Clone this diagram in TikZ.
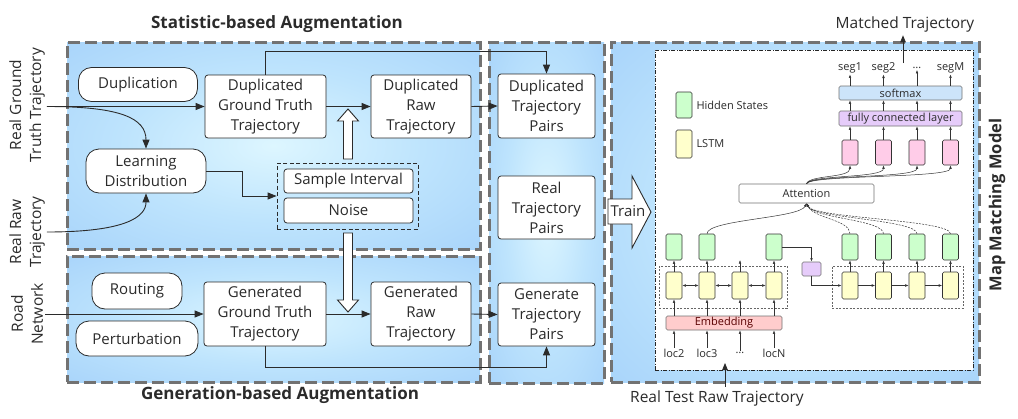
\documentclass[tikz,border=0pt]{standalone}
\usepackage{fontspec}
\setmainfont{Open Sans}
\usepackage{xcolor}
\usetikzlibrary{arrows.meta,positioning}

\definecolor{glowin}{HTML}{DDF6FF}
\definecolor{glowmid}{HTML}{BEE4FD}
\definecolor{glowout}{HTML}{98C8F8}
\definecolor{framegray}{HTML}{727272}
\definecolor{inkgray}{HTML}{2B2B2B}
\definecolor{hidgreen}{HTML}{CCFFCC}
\definecolor{lstmyellow}{HTML}{FFFFCC}
\definecolor{attpink}{HTML}{FFCCE8}
\definecolor{smblue}{HTML}{CCE4FA}
\definecolor{fcpurple}{HTML}{E6CCFA}
\definecolor{embred}{HTML}{FFCCCC}
\pgfdeclareradialshading{glow}{\pgfpoint{0bp}{0bp}}{color(0bp)=(glowin); color(18bp)=(glowmid); color(50bp)=(glowout)}

\newcommand\mainfs{\fontsize{15}{20}\selectfont}
\newcommand\outfs{\fontsize{15.5}{20}\selectfont}
\newcommand\modelfs{\fontsize{11}{13}\selectfont}
\newcommand\titlefs{\fontsize{17}{20}\selectfont\bfseries}

\begin{document}
\begin{tikzpicture}[
  x=1pt, y=-1pt,
  frame/.style={draw=framegray, line width=3pt, dash pattern=on 12pt off 5pt,
                shade, shading=glow, inner sep=0pt},
  box/.style={draw=inkgray, line width=0.8pt, rounded corners=3pt, fill=white,
              align=center, font=\mainfs, text=inkgray, inner sep=1pt},
  pill/.style={box, rounded corners=13pt},
  title/.style={font=\titlefs, text=inkgray},
  inlabel/.style={align=center, font=\outfs, text=inkgray, inner sep=2pt},
  arrow/.style={-{Triangle[length=9pt,width=7pt]}, line width=0.9pt, draw=inkgray},
  hollow/.style={draw=inkgray, line width=0.9pt, fill=white},
  cell/.style={draw=black!80, line width=0.6pt, rounded corners=1.5pt,
               minimum width=16pt, minimum height=26pt, inner sep=0pt},
  layer/.style={draw=black!55, line width=0.6pt, rounded corners=1.5pt,
                inner sep=0pt, font=\modelfs, text=inkgray},
  grp/.style={draw=black!60, line width=0.5pt, dash pattern=on 2pt off 1.5pt},
  tiny/.style={>={Latex[length=3.5pt,width=2.6pt]}, ->, line width=0.5pt, draw=black!80}
]
\useasboundingbox (0,0) rectangle (1018,418);

% frames
\node[frame, minimum width=413pt, minimum height=207pt] (statf) at (273.5,145.5) {};
\node[frame, minimum width=413pt, minimum height=126pt] (genf) at (273.5,319) {};
\node[frame, minimum width=115pt, minimum height=341pt] (pairf) at (546.5,212.5) {};
\node[frame, minimum width=368pt, minimum height=340pt] (modelf) at (795,212) {};
\node[draw=black!85, fill=white, line width=0.6pt,
      dash pattern=on 4pt off 1.5pt on 1pt off 1.5pt,
      minimum width=318pt, minimum height=320pt] (net) at (814,210) {};

\node[title] (stattitle) at (277,24) {Statistic-based Augmentation};
\node[title] (gentitle) at (280,395) {Generation-based Augmentation};
\node[title, rotate=90, font=\fontsize{16.5}{20}\selectfont\bfseries] (mmtitle) at (997,205) {Map Matching Model};

% inputs
\node[inlabel, rotate=90] (realgt) at (27,105) {Real Ground\\Truth Trajectory};
\node[inlabel, rotate=90] (realraw) at (27,232) {Real Raw\\Trajectory};
\node[inlabel, rotate=90] (road) at (27,314) {Road\\Network};

% statistic-based augmentation
\node[pill, minimum width=119pt, minimum height=34pt] (dup) at (138,84.5) {Duplication};
\node[box, minimum width=121pt, minimum height=63pt] (dupgt) at (265.5,106.5) {Duplicated\\Ground Truth\\Trajectory};
\node[box, minimum width=100pt, minimum height=63pt] (dupraw) at (421,106.5) {Duplicated\\Raw\\Trajectory};
\node[pill, minimum width=120pt, minimum height=44pt] (learn) at (146,171) {Learning\\Distribution};
\node[draw=inkgray, line width=0.8pt, dash pattern=on 4pt off 2.5pt,
      minimum width=141pt, minimum height=66pt] (noisegrp) at (347.5,196) {};
\node[box, minimum width=129pt, minimum height=24pt] (sample) at (348.5,181) {Sample Interval};
\node[box, minimum width=129pt, minimum height=25pt] (noise) at (348.5,210.5) {Noise};

% generation-based augmentation
\node[pill, minimum width=90pt, minimum height=36pt] (routing) at (137,291) {Routing};
\node[pill, minimum width=122pt, minimum height=35pt] (perturb) at (137,338.5) {Perturbation};
\node[box, minimum width=122pt, minimum height=64pt] (gengt) at (265,314) {Generated\\Ground Truth\\Trajectory};
\node[box, minimum width=100pt, minimum height=64pt] (genraw) at (421,314) {Generated\\Raw\\Trajectory};

% trajectory pairs
\node[box, minimum width=97pt, minimum height=64pt] (duppair) at (546.5,106) {Duplicated\\Trajectory\\Pairs};
\node[box, minimum width=97pt, minimum height=63pt] (realpair) at (546.5,207.5) {Real\\Trajectory\\Pairs};
\node[box, minimum width=97pt, minimum height=63pt] (genpair) at (546.5,314.5) {Generate\\Trajectory\\Pairs};

\draw[arrow] (realgt.south |- dupgt) -- (dupgt.west);
\draw[arrow] (realgt.south |- dupgt) .. controls (120,106.5) and (146,118) .. (learn.north);
\draw[arrow] (realraw.south) .. controls (128,232) and (146,216) .. (learn.south);
\draw[arrow] (road.south |- gengt) -- (gengt.west);
\draw[arrow] (learn.east) -- ++(36,0) |- (noisegrp.west);
\draw[arrow] (dupgt.east) -- (dupraw.west);
\draw[arrow] (dupraw.east) -- (duppair.west);
\draw[arrow] (gengt.east) -- (genraw.west);
\draw[arrow] (genraw.east) -- (genpair.west);
\draw[arrow] (dupgt.north) -- ++(0,-23) -| (duppair.north);
\draw[arrow] (gengt.south) -- ++(0,21) -| (genpair.south);

% noise is applied to both ground truths
\draw[hollow] (343.5,159) -- (343.5,121) -- (337.5,121) -- (348,109) -- (358.5,121)
  -- (352.5,121) -- (352.5,159) -- cycle;
\draw[hollow] (343.5,233) -- (343.5,300) -- (337.5,300) -- (348,312) -- (358.5,300)
  -- (352.5,300) -- (352.5,233) -- cycle;

% train
\draw[hollow] (608,199) -- (632,199) -- (632,176) -- (651,212) -- (632,248)
  -- (632,224) -- (608,224) -- cycle;
\node[font=\mainfs, text=inkgray, inner sep=0pt] (train) at (628,211) {Train};

% map matching model
\node[cell, fill=hidgreen] (lghid) at (684,105) {};
\node[right=3pt of lghid, font=\modelfs, text=inkgray, inner sep=1pt] (lghidtxt) {Hidden States};
\node[cell, fill=lstmyellow, minimum height=28pt] (lglstm) at (684,144) {};
\node[right=3pt of lglstm, font=\modelfs, text=inkgray, inner sep=1pt] (lglstmtxt) {LSTM};

\node[layer, fill=smblue, minimum width=123pt, minimum height=14pt] (softmax) at (900.5,93) {softmax};
\node[layer, fill=fcpurple, minimum width=123pt, minimum height=15pt] (fc) at (900.5,118.5) {fully connected layer};
\node[layer, fill=white, minimum width=135pt, minimum height=19pt] (att) at (806.5,193.5) {Attention};
\node[layer, fill=embred, minimum width=116pt, minimum height=14pt, text=red!35!black] (emb) at (724,323) {Embedding};
\node[layer, fill=fcpurple, minimum width=19pt, minimum height=14pt] (ctx) at (811.5,269) {};
\node[grp, minimum width=128pt, minimum height=42pt] (encgrp) at (723,287) {};
\node[grp, minimum width=131pt, minimum height=42pt] (decgrp) at (897.5,287) {};

\foreach \x/\t [count=\i] in {674/loc2, 707/loc3, 740/\ldots, 774/locN} {
  \node[cell, fill=lstmyellow, minimum height=27pt] (ey\i) at (\x,285.5) {};
  \node[font=\modelfs, text=inkgray, inner sep=1pt] (loc\i) at (\x,353) {\t};
  \draw[tiny] (emb.north -| ey\i) -- (ey\i.south);
  \draw[tiny] (loc\i.north) -- (emb.south -| loc\i);
}
\node[cell, fill=hidgreen] (eg1) at (674,247) {};
\node[cell, fill=hidgreen] (eg2) at (707,247) {};
\coordinate (eg3) at (740,260);
\node[cell, fill=hidgreen] (eg4) at (774,247) {};
\foreach \i in {1,2,4} \draw[tiny] (ey\i.north) -- (eg\i.south);
\draw[tiny] (ey3.north) -- (eg3);
\foreach \i/\j in {1/2,2/3,3/4} \draw[tiny, <->] (ey\i) -- (ey\j);

\foreach \x/\t [count=\i] in {850/seg1, 883.5/seg2, 917/\ldots, 950.5/segM} {
  \node[cell, fill=attpink, minimum height=25pt] (p\i) at (\x,152.5) {};
  \node[cell, fill=hidgreen] (dg\i) at (\x,247) {};
  \node[cell, fill=lstmyellow, minimum height=27pt] (dy\i) at (\x,285.5) {};
  \node[font=\modelfs, text=inkgray, inner sep=1pt] (s\i) at (\x,68) {\t};
  \draw[tiny] (p\i.north) -- (p\i.north |- fc.south);
  \draw[tiny] (p\i.north |- fc.north) -- (p\i.north |- softmax.south);
  \draw[tiny] (p\i.north |- softmax.north) -- (s\i.south);
  \draw[tiny] (att.north) .. controls +(3,-9) and +(0,13) .. (p\i.south);
  \draw[tiny] (dy\i.north) -- (dg\i.south);
  \draw[tiny, dash pattern=on 2pt off 1.2pt] (dg\i.north) .. controls +(0,-14) and +(7,15) .. (att.south);
}
\foreach \i/\j in {1/2,2/3,3/4} \draw[tiny] (dy\i) -- (dy\j);
\draw[tiny] (eg2.north) .. controls +(0,-14) and +(-7,15) .. (att.south);
\draw[tiny, line width=0.7pt] (eg4.east) -| (ctx.north);
\draw[tiny, line width=0.7pt] (ctx.south) |- (dy1.west);

% outputs and test input
\node[font=\outfs, text=inkgray] (matched) at (905,24) {Matched Trajectory};
\coordinate (mtstart) at (903,63);
\draw[line width=0.8pt, draw=inkgray, -{Triangle[length=7pt,width=5.5pt]}] (mtstart) -- (mtstart |- matched.south);
\node[font=\outfs, text=inkgray] (testraw) at (717,398) {Real Test Raw Trajectory};
\coordinate (testin) at (725,363);
\draw[line width=0.8pt, draw=inkgray, -{Triangle[length=7pt,width=5.5pt]}] (testin |- testraw.north) -- (testin);
\end{tikzpicture}
\end{document}
